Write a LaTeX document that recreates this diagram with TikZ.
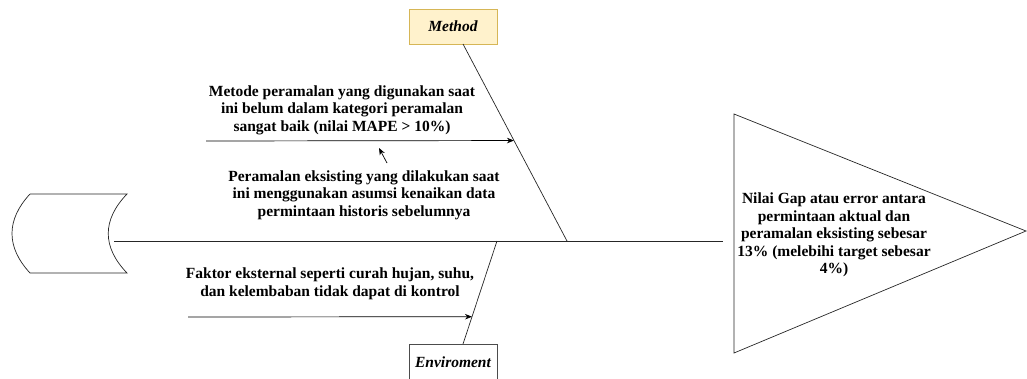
\documentclass[tikz,border=0pt]{standalone}
\usepackage{fontspec}
\setmainfont{Liberation Serif}
\usetikzlibrary{arrows.meta}
\definecolor{methfill}{HTML}{FFF2CC}
\definecolor{methdraw}{HTML}{D6B656}
\tikzset{
  bone/.style={draw=black!85, line width=0.7pt},
  arr/.style={draw=black, line width=0.7pt, -{Stealth[length=7pt,width=5.5pt]}},
  cause/.style={align=center, font=\fontsize{15.5}{17.5}\selectfont\bfseries},
  catbox/.style={draw, minimum width=88pt, minimum height=35pt, inner sep=0pt,
    font=\fontsize{15.5}{17.5}\selectfont\bfseries\itshape},
}

\begin{document}
\begin{tikzpicture}[x=1pt,y=-1pt]
  \useasboundingbox (0,0) rectangle (1027,378);

  % head of the fish
  \coordinate (htop) at (734,114);
  \coordinate (hbot) at (734,353);
  \coordinate (htip) at (1026,231);
  \draw[bone] (htop) -- (htip) -- (hbot) -- cycle;
  \node[cause] (effect) at (834,235) {Nilai Gap atau error antara\\permintaan aktual dan\\peramalan eksisting sebesar\\13\% (melebihi target sebesar\\4\%)};

  % tail and spine
  \draw[bone] (30,194) -- (127,194) .. controls (102,220) and (102,247) .. (127,273)
    -- (30,273) .. controls (6,247) and (6,220) .. (30,194);
  \coordinate (tail) at (114,241);
  \coordinate (head) at (723,241);
  \draw[bone] (tail) -- (head);

  % method bone
  \node[catbox, fill=methfill, draw=methdraw] (method) at (453,26.5) {Method};
  \coordinate (mtop) at (463,44);
  \coordinate (mjoint) at (567,241);
  \draw[bone] (mtop) -- (mjoint) coordinate[pos=0.49] (m1);
  \coordinate (m1s) at (206,141);
  \draw[arr] (m1s) -- (m1);
  \node[cause] (mcause) at (342,110) {Metode peramalan yang digunakan saat\\ini belum dalam kategori peramalan\\sangat baik (nilai MAPE > 10\%)};
  \node[cause] (pcause) at (364,195) {Peramalan eksisting yang dilakukan saat\\ini menggunakan asumsi kenaikan data\\permintaan historis sebelumnya};
  \coordinate (p1s) at (387,163);
  \coordinate (p1) at (379,148);
  \draw[arr] (p1s) -- (p1);

  % environment bone
  \node[catbox, draw=black!70] (env) at (453,362) {Enviroment};
  \coordinate (ebot) at (463,344);
  \coordinate (ejoint) at (497,241);
  \draw[bone] (ejoint) -- (ebot) coordinate[pos=0.735] (e1);
  \coordinate (e1s) at (188,317);
  \draw[arr] (e1s) -- (e1);
  \node[cause] (ecause) at (330,284) {Faktor eksternal seperti curah hujan, suhu,\\dan kelembaban tidak dapat di kontrol};
\end{tikzpicture}
\end{document}
